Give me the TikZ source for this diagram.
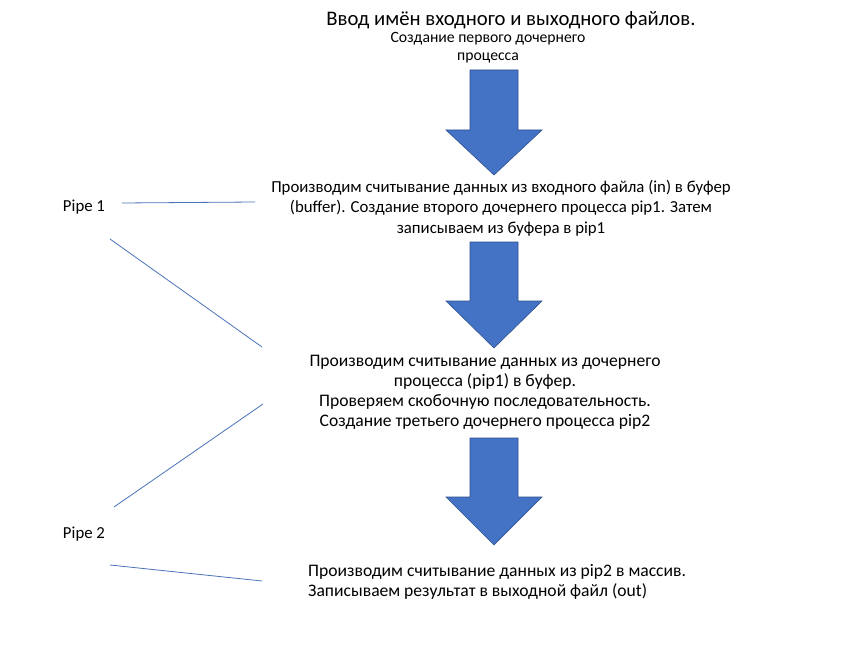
\documentclass[tikz,border=0pt]{standalone}
\usepackage{fontspec}
\setmainfont{Carlito}
\definecolor{arrowfill}{HTML}{4472C4}
\definecolor{arrowedge}{HTML}{2F528F}
\definecolor{linkblue}{HTML}{4A72B8}
\tikzset{
  txt/.style={inner sep=0pt, align=center, font=\fontsize{16.8}{20.5}\selectfont},
  bigtxt/.style={inner sep=0pt, align=center, font=\fontsize{17.6}{20}\selectfont},
  small/.style={inner sep=0pt, align=center, font=\fontsize{15.7}{18}\selectfont},
  link/.style={draw=linkblue, line width=0.8pt},
  bigarrow/.style={fill=arrowfill, draw=arrowedge, line width=0.6pt}
}
\newcommand\bigdownarrow[3]{%
  \path[bigarrow] (470,#1) -- (518,#1) -- (518,#2) -- (542,#2) -- (494,#3) -- (446,#2) -- (470,#2) -- cycle;}
\begin{document}
\begin{tikzpicture}[x=1pt,y=-1pt]
\useasboundingbox[fill=white] (0,0) rectangle (852,658);

\node[txt, font=\fontsize{20.7}{22}\selectfont] (title) at (511,20) {Ввод имён входного и выходного файлов.};
\node[small] (first) at (488,48) {Создание первого дочернего\\процесса};

\bigdownarrow{70}{130}{175}
\bigdownarrow{242}{301}{348}
\bigdownarrow{438}{497}{545}

\node[txt] (read) at (501,208) {Производим считывание данных из входного файла (in) в буфер\\(buffer). Создание второго дочернего процесса pip1. Затем\\записываем из буфера в pip1};
\node[bigtxt] (check) at (485,392) {Производим считывание данных из дочернего\\процесса (pip1) в буфер.\\Проверяем скобочную последовательность.\\Создание третьего дочернего процесса pip2};
\node[bigtxt, align=left, anchor=west] (write) at (308,582) {Производим считывание данных из pip2 в массив.\\Записываем результат в выходной файл (out)};

\node[txt] (pipeA) at (84,207) {Pipe 1};
\node[txt] (pipeB) at (84,534) {Pipe 2};

\coordinate (a1) at (122,203);
\coordinate (a2) at (255,202);
\coordinate (b1) at (110,239);
\coordinate (b2) at (262,347);
\coordinate (c1) at (114,507);
\coordinate (c2) at (263,404);
\coordinate (d1) at (110,565);
\coordinate (d2) at (262,581);

\draw[link] (a1) -- (a2);
\draw[link] (b1) -- (b2);
\draw[link] (c1) -- (c2);
\draw[link] (d1) -- (d2);
\end{tikzpicture}
\end{document}
